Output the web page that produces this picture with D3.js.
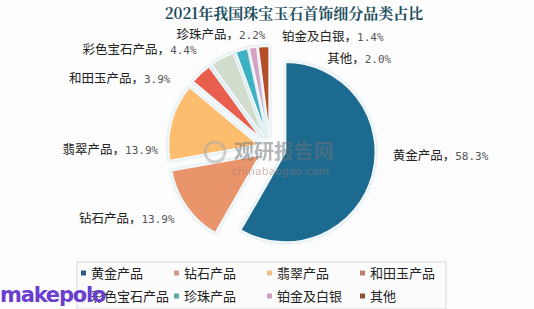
<!DOCTYPE html>
<html>
<head>
<meta charset="utf-8">
<script src="https://cdn.jsdelivr.net/npm/d3@7"></script>
<style>
  body { margin: 0; background: #fdfdfd; }
  svg { display: block; }
</style>
</head>
<body>
<svg id="chart" width="534" height="309"></svg>
<script>
// data
var categories = ["黄金产品", "钻石产品", "翡翠产品", "和田玉产品", "彩色宝石产品", "珍珠产品", "铂金及白银", "其他"];
var shares = [58.3, 13.9, 13.9, 3.9, 4.4, 2.2, 1.4, 2.0];
var sliceColors = ["#1f6b8f", "#e9946a", "#fdbd6e", "#e8604e", "#d2dccd", "#3bb1c2", "#d6a2c4", "#b5502a"];
var legendColors = ["#2a5a90", "#d09a88", "#f0c080", "#c08070", "#b9c4b4", "#5aa8a0", "#c8a0b8", "#905030"];
var title = "2021年我国珠宝玉石首饰细分品类占比";

// layout
var cx = 270, cy = 148, radius = 90;
var explode = [16, 12, 12, 12, 12, 12, 12, 12];
// label placement: nudge from the arc point, and which side the text hangs
var labelNudge = [[-1, -25], [6, -1], [8, 34], [-15, 21], [-15, 11], [30, 6], [33, 11], [65, 34]];
var labelAnchor = ["start", "end", "end", "end", "end", "end", "start", "start"];

var svg = d3.select("#chart");

svg.append("rect").attr("width", 534).attr("height", 309).attr("fill", "#fdfdfd");

var defs = svg.append("defs");
var f = defs.append("filter").attr("id", "glow").attr("x", "-20%").attr("y", "-20%").attr("width", "140%").attr("height", "140%");
f.append("feDropShadow").attr("dx", 0).attr("dy", 0).attr("stdDeviation", 1.6)
  .attr("flood-color", "#9fc7d8").attr("flood-opacity", 0.7);

// title
svg.append("text")
  .attr("x", 294).attr("y", 19)
  .attr("text-anchor", "middle")
  .attr("font-family", "'Noto Serif CJK SC', 'Noto Sans CJK SC', serif")
  .attr("font-weight", "bold")
  .attr("font-size", 15)
  .attr("fill", "#1d4f5e")
  .text(title);

var pie = d3.pie().sort(null).value(function (d) { return d; });
var arcs = pie(shares);
var arc = d3.arc().innerRadius(0).outerRadius(radius);

function midDir(a) {
  var m = (a.startAngle + a.endAngle) / 2;
  return [Math.sin(m), -Math.cos(m)];
}

var g = svg.append("g").attr("transform", "translate(" + cx + "," + cy + ")");

g.selectAll("path.slice")
  .data(arcs)
  .enter().append("path")
  .attr("class", "slice")
  .attr("transform", function (d, i) {
    var m = midDir(d);
    return "translate(" + (m[0] * explode[i]) + "," + (m[1] * explode[i]) + ")";
  })
  .attr("d", arc)
  .attr("fill", function (d, i) { return sliceColors[i]; })
  .attr("stroke", "#f4f9fb")
  .attr("stroke-width", 1.8)
  .attr("stroke-linejoin", "round")
  .attr("filter", "url(#glow)");

// watermark
var wm = svg.append("g").attr("opacity", 0.5);
wm.append("circle").attr("cx", 215).attr("cy", 152).attr("r", 10)
  .attr("fill", "none").attr("stroke", "#a8a8a8").attr("stroke-width", 3);
wm.append("text").attr("x", 234).attr("y", 159)
  .attr("font-family", "'Noto Sans CJK SC', sans-serif").attr("font-weight", "bold")
  .attr("font-size", 20).attr("fill", "#6d7378").text("观研报告网");
wm.append("text").attr("x", 232).attr("y", 175)
  .attr("font-family", "'DejaVu Sans', sans-serif")
  .attr("font-size", 11).attr("fill", "#a07a70").text("chinabaogao.com");

// data labels
var labelArc = d3.arc().innerRadius(radius + 22).outerRadius(radius + 22);
var labels = svg.append("g")
  .attr("font-family", "'Noto Sans CJK SC', sans-serif")
  .attr("font-size", 12.5)
  .attr("fill", "#222");

arcs.forEach(function (d, i) {
  var c = labelArc.centroid(d);
  var m = midDir(d);
  var x = cx + c[0] + m[0] * explode[i] + labelNudge[i][0];
  var y = cy + c[1] + m[1] * explode[i] + labelNudge[i][1];
  var t = labels.append("text")
    .attr("x", x).attr("y", y)
    .attr("dy", "0.35em")
    .attr("text-anchor", labelAnchor[i]);
  t.append("tspan").text(categories[i] + "，");
  t.append("tspan").attr("fill", "#555").attr("font-family", "'DejaVu Sans Mono', monospace").attr("font-size", 11)
    .text(d3.format(".1f")(shares[i]) + "%");
});

// legend
var lg = svg.append("g").attr("transform", "translate(77,262)");
lg.append("rect").attr("width", 369).attr("height", 47)
  .attr("fill", "#fcfcfc").attr("stroke", "#d8d8d8");
var colW = 93, rowH = 23;
var item = lg.selectAll("g.item").data(categories).enter().append("g")
  .attr("class", "item")
  .attr("transform", function (d, i) {
    return "translate(" + (4 + (i % 4) * colW) + "," + (11 + Math.floor(i / 4) * rowH) + ")";
  });
item.append("rect").attr("x", 0).attr("y", -2.5).attr("width", 5).attr("height", 5)
  .attr("fill", function (d, i) { return legendColors[i]; });
item.append("text").attr("x", 10).attr("dy", "0.36em")
  .attr("font-family", "'Noto Sans CJK SC', sans-serif")
  .attr("font-size", 13).attr("fill", "#222")
  .text(function (d) { return d; });

// site mark bottom left
svg.append("text").attr("x", 0).attr("y", 302)
  .attr("font-family", "'DejaVu Sans', sans-serif").attr("font-weight", "bold")
  .attr("font-size", 21).attr("fill", "#6a3fd0").attr("letter-spacing", -1.2)
  .text("makepolo");
</script>
</body>
</html>
